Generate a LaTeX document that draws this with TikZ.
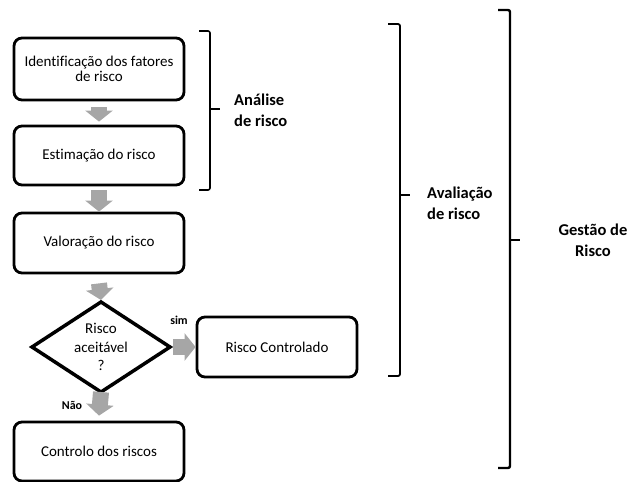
\documentclass[tikz,border=0pt]{standalone}
\usepackage{fontspec}
\setmainfont[Ligatures=NoCommon]{Carlito}
\usetikzlibrary{arrows.meta,calc}
\definecolor{flowgray}{RGB}{166,166,166}
\begin{document}
\begin{tikzpicture}[x=1pt,y=-1pt,
  stepbox/.style={draw, line width=2.8pt, rounded corners=8pt, minimum width=170pt,
    minimum height=60pt, align=center, inner sep=0pt,
    font=\fontsize{15}{15.5}\selectfont},
  flow/.style={draw=flowgray, line width=16pt, line cap=butt,
    -{Triangle[width=27pt,length=11pt]}},
  brace/.style={line width=1.6pt, rounded corners=2pt},
  lbl/.style={font=\bfseries\fontsize{16.5}{21}\selectfont, align=left, anchor=west, inner sep=0pt},
  tag/.style={font=\bfseries\fontsize{12}{14}\selectfont, inner sep=0pt}
]
\useasboundingbox (0,0) rectangle (630,482);

% process steps
\node[stepbox, minimum height=62pt] (b1) at (99,69) {Identificação dos fatores\\de risco};
\node[stepbox, minimum height=59pt] (b2) at (99,155.5) {Estimação do risco};
\node[stepbox] (b3) at (99,243) {Valoração do risco};
\node[stepbox, minimum width=160pt] (b4) at (277,347) {Risco Controlado};
\node[stepbox, minimum height=59pt] (b5) at (99,451.5) {Controlo dos riscos};

% decision
\node[minimum width=138pt, minimum height=90pt, inner sep=0pt, outer sep=0pt] (dia) at (101,347) {};
\draw[line width=3.5pt] (dia.west) -- (dia.north) -- (dia.east) -- (dia.south) -- cycle;
\node[align=center, font=\fontsize{15}{18.5}\selectfont, inner sep=0pt] (diatxt) at (dia.center) {Risco\\aceitável\\?};

% flow arrows
\draw[flow] ([yshift=-6pt]b1.south) -- ([yshift=3pt]b2.north);
\draw[flow] ([yshift=-4pt]b2.south) -- (b3.north);
\draw[flow] ([yshift=-9pt]b3.south) -- ([yshift=2pt]dia.north);
\draw[flow] ([xshift=3pt]dia.east) -- (b4.west);
\draw[flow] (dia.south) -- ([yshift=5pt]b5.north);

\node[tag] (sim) at (179,320) {sim};
\node[tag] (nao) at (72,405) {Não};

% brackets
\draw[brace] (199,31) -- (210,31) -- (210,190) -- (199,190);
\draw[brace] (210,109) -- (220,109);
\node[lbl] (analise) at (234,110) {Análise\\de risco};

\draw[brace, line width=1.8pt] (388,24) -- (400,24) -- (400,376) -- (388,376);
\draw[brace, line width=1.8pt] (400,195) -- (410,195);
\node[lbl] (avaliacao) at (427,203) {Avaliação\\de risco};

\draw[brace, line width=2.4pt] (498,10) -- (510,10) -- (510,468) -- (498,468);
\draw[brace, line width=2.4pt] (510,240) -- (520,240);
\node[lbl, align=center, anchor=center] (gestao) at (593,240) {Gestão de\\Risco};
\end{tikzpicture}
\end{document}
